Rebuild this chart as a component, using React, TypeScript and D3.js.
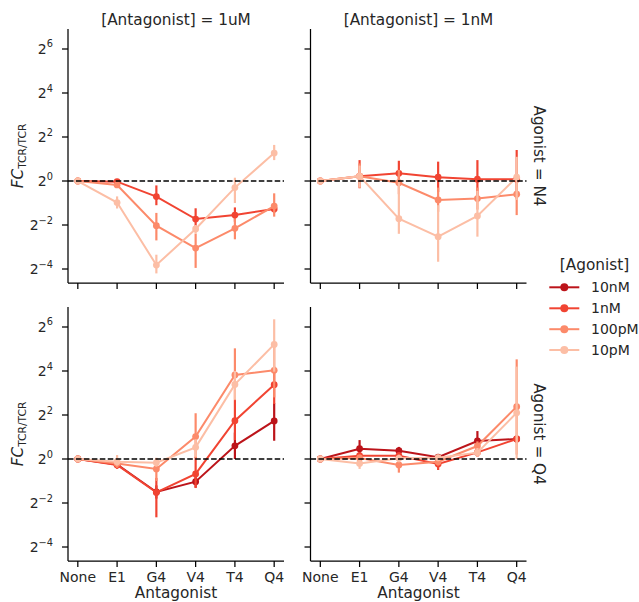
import React from "react";
import * as d3 from "d3";

const categories = ["None", "E1", "G4", "V4", "T4", "Q4"];
const agonists = ["10nM", "1nM", "100pM", "10pM"];
const colors = ["#bc141a", "#f14432", "#fc8a6a", "#fcbea5"];
const colTitles = ["[Antagonist] = 1uM", "[Antagonist] = 1nM"];
const rowTitles = ["Agonist = N4", "Agonist = Q4"];
const yTickExps = [-4, -2, 0, 2, 4, 6];

// values are log2 fold changes: [mean], [low], [high]
// Agonist N4, Antagonist 1uM
const n4uM_1nM = [0, -0.03, -0.71, -1.73, -1.55, -1.27];
const n4uM_1nM_lo = [0, -0.1, -1.1, -2.23, -1.85, -1.45];
const n4uM_1nM_hi = [0, 0.05, -0.2, -1.24, -1.2, -1.05];
const n4uM_100pM = [0, -0.18, -2.03, -3.05, -2.15, -1.14];
const n4uM_100pM_lo = [0, -0.25, -2.7, -3.95, -2.65, -1.62];
const n4uM_100pM_hi = [0, -0.1, -1.45, -2.4, -1.7, -0.56];
const n4uM_10pM = [0, -0.98, -3.82, -2.18, -0.3, 1.27];
const n4uM_10pM_lo = [0, -1.25, -4.2, -2.4, -1.0, 0.95];
const n4uM_10pM_hi = [0, -0.7, -3.35, -2.0, 0.15, 1.64];

// Agonist N4, Antagonist 1nM
const n4nM_1nM = [0, 0.22, 0.35, 0.17, 0.08, 0.08];
const n4nM_1nM_lo = [0, -0.33, -0.2, -0.5, -0.7, -0.8];
const n4nM_1nM_hi = [0, 0.95, 0.92, 0.88, 0.95, 1.41];
const n4nM_100pM = [0, 0.22, -0.08, -0.86, -0.8, -0.6];
const n4nM_100pM_lo = [0, -0.3, -0.6, -1.4, -1.3, -1.55];
const n4nM_100pM_hi = [0, 0.8, 0.5, -0.3, -0.3, -0.1];
const n4nM_10pM = [0, 0.22, -1.71, -2.53, -1.59, 0.17];
const n4nM_10pM_lo = [0, -0.3, -2.4, -3.67, -2.53, -0.86];
const n4nM_10pM_hi = [0, 0.7, -0.05, -1.1, -0.45, 1.1];

// Agonist Q4, Antagonist 1uM
const q4uM_10nM = [0, -0.25, -1.5, -1.03, 0.6, 1.73];
const q4uM_10nM_lo = [0, -0.4, -1.8, -1.3, 0.0, 0.83];
const q4uM_10nM_hi = [0, -0.1, -1.2, -0.75, 1.2, 2.53];
const q4uM_1nM = [0, -0.27, -1.52, -0.68, 1.74, 3.38];
const q4uM_1nM_lo = [0, -0.45, -2.65, -1.32, 0.86, 2.5];
const q4uM_1nM_hi = [0, -0.1, -0.86, 0.1, 2.68, 4.2];
const q4uM_100pM = [0, -0.2, -0.45, 1.02, 3.82, 4.03];
const q4uM_100pM_lo = [0, -0.4, -1.0, 0.03, 2.68, 2.8];
const q4uM_100pM_hi = [0, 0.0, 0.05, 2.08, 5.03, 5.3];
const q4uM_10pM = [0, -0.12, -0.17, 0.53, 3.39, 5.21];
const q4uM_10pM_lo = [0, -0.3, -0.35, 0.1, 2.7, 3.97];
const q4uM_10pM_hi = [0, 0.18, 0.05, 0.9, 4.0, 6.35];

// Agonist Q4, Antagonist 1nM
const q4nM_10nM = [0, 0.47, 0.38, 0.08, 0.82, 0.91];
const q4nM_10nM_lo = [0, 0.1, 0.2, -0.05, 0.41, 0.75];
const q4nM_10nM_hi = [0, 0.86, 0.55, 0.2, 1.27, 1.05];
const q4nM_1nM = [0, 0.15, 0.15, -0.23, 0.3, 0.91];
const q4nM_1nM_lo = [0, 0.0, 0.0, -0.5, 0.1, 0.8];
const q4nM_1nM_hi = [0, 0.3, 0.3, 0.03, 0.5, 1.0];
const q4nM_100pM = [0, 0.05, -0.27, -0.12, 0.59, 2.38];
const q4nM_100pM_lo = [0, -0.1, -0.62, -0.3, 0.4, 0.2];
const q4nM_100pM_hi = [0, 0.2, -0.05, 0.05, 0.8, 4.53];
const q4nM_10pM = [0, -0.2, 0.03, 0.06, 0.29, 2.1];
const q4nM_10pM_lo = [0, -0.45, -0.15, -0.1, 0.1, 0.0];
const q4nM_10pM_hi = [0, 0.05, 0.2, 0.2, 0.5, 4.2];

type Series = { mean: number[]; lo: number[]; hi: number[] } | null;

const panels: Series[][][] = [
  [
    [
      null,
      { mean: n4uM_1nM, lo: n4uM_1nM_lo, hi: n4uM_1nM_hi },
      { mean: n4uM_100pM, lo: n4uM_100pM_lo, hi: n4uM_100pM_hi },
      { mean: n4uM_10pM, lo: n4uM_10pM_lo, hi: n4uM_10pM_hi },
    ],
    [
      null,
      { mean: n4nM_1nM, lo: n4nM_1nM_lo, hi: n4nM_1nM_hi },
      { mean: n4nM_100pM, lo: n4nM_100pM_lo, hi: n4nM_100pM_hi },
      { mean: n4nM_10pM, lo: n4nM_10pM_lo, hi: n4nM_10pM_hi },
    ],
  ],
  [
    [
      { mean: q4uM_10nM, lo: q4uM_10nM_lo, hi: q4uM_10nM_hi },
      { mean: q4uM_1nM, lo: q4uM_1nM_lo, hi: q4uM_1nM_hi },
      { mean: q4uM_100pM, lo: q4uM_100pM_lo, hi: q4uM_100pM_hi },
      { mean: q4uM_10pM, lo: q4uM_10pM_lo, hi: q4uM_10pM_hi },
    ],
    [
      { mean: q4nM_10nM, lo: q4nM_10nM_lo, hi: q4nM_10nM_hi },
      { mean: q4nM_1nM, lo: q4nM_1nM_lo, hi: q4nM_1nM_hi },
      { mean: q4nM_100pM, lo: q4nM_100pM_lo, hi: q4nM_100pM_hi },
      { mean: q4nM_10pM, lo: q4nM_10pM_lo, hi: q4nM_10pM_hi },
    ],
  ],
];

const W = 639;
const H = 602;
const colX: [number, number][] = [
  [68, 284],
  [310.5, 526.5],
];
const rowY: [number, number][] = [
  [29, 283],
  [307, 561],
];
const FONT = "DejaVu Sans, sans-serif";
const FS = 14;
const FL = 15.3;
const TXT = "#262626";

function Panel({ r, c }: { r: number; c: number }) {
  const [x0, x1] = colX[c];
  const [y0, y1] = rowY[r];
  const x = d3.scalePoint<string>().domain(categories).range([x0, x1]).padding(0.25);
  const y = d3
    .scaleLog()
    .base(2)
    .domain([Math.pow(2, -4.636), Math.pow(2, 6.909)])
    .range([y1, y0]);
  const line = d3
    .line<number>()
    .x((_, i) => x(categories[i]) as number)
    .y((v) => y(Math.pow(2, v)));
  const series = panels[r][c];
  return (
    <g>
      {series.map((s, k) =>
        s ? (
          <g key={k}>
            <path d={line(s.mean) || ""} fill="none" stroke={colors[k]} strokeWidth={2} />
            {s.mean.map((v, i) => (
              <line
                key={"e" + i}
                x1={x(categories[i])}
                x2={x(categories[i])}
                y1={y(Math.pow(2, s.lo[i]))}
                y2={y(Math.pow(2, s.hi[i]))}
                stroke={colors[k]}
                strokeWidth={2.2}
              />
            ))}
            {s.mean.map((v, i) => (
              <circle
                key={"m" + i}
                cx={x(categories[i])}
                cy={y(Math.pow(2, v))}
                r={3.4}
                fill={colors[k]}
              />
            ))}
          </g>
        ) : null
      )}
      <line
        x1={x0}
        x2={x1}
        y1={y(1)}
        y2={y(1)}
        stroke="#000"
        strokeWidth={1.6}
        strokeDasharray="5.55,2.4"
      />
      {/* spines */}
      <line x1={x0} x2={x0} y1={y0} y2={y1} stroke="#000" strokeWidth={1.25} />
      <line x1={x0} x2={x1} y1={y1} y2={y1} stroke="#000" strokeWidth={1.25} />
      {/* y ticks */}
      {yTickExps.map((e) => {
        const ty = y(Math.pow(2, e));
        return (
          <g key={"yt" + e}>
            <line x1={x0 - 6} x2={x0} y1={ty} y2={ty} stroke="#000" strokeWidth={1.25} />
            {c === 0 ? (
              <text
                x={x0 - 15}
                y={ty + 5}
                textAnchor="end"
                fontFamily={FONT}
                fontSize={FS}
                fill={TXT}
              >
                2
                <tspan fontSize={9.8} dy={-6.5}>
                  {e < 0 ? "\u2212" + Math.abs(e) : String(e)}
                </tspan>
              </text>
            ) : null}
          </g>
        );
      })}
      {/* x ticks */}
      {categories.map((cat) => {
        const tx = x(cat) as number;
        return (
          <g key={"xt" + cat}>
            <line x1={tx} x2={tx} y1={y1} y2={y1 + 6} stroke="#000" strokeWidth={1.25} />
            {r === 1 ? (
              <text
                x={tx}
                y={y1 + 21}
                textAnchor="middle"
                fontFamily={FONT}
                fontSize={FS}
                fill={TXT}
              >
                {cat}
              </text>
            ) : null}
          </g>
        );
      })}
      {r === 1 ? (
        <text
          x={(x0 + x1) / 2}
          y={y1 + 37}
          textAnchor="middle"
          fontFamily={FONT}
          fontSize={FL}
          fill={TXT}
        >
          Antagonist
        </text>
      ) : null}
      {r === 0 ? (
        <text
          x={(x0 + x1) / 2}
          y={24.7}
          textAnchor="middle"
          fontFamily={FONT}
          fontSize={FL}
          fill={TXT}
        >
          {colTitles[c]}
        </text>
      ) : null}
      {c === 0 ? (
        <text
          transform={`translate(23,${(y0 + y1) / 2}) rotate(-90)`}
          textAnchor="middle"
          fontFamily={FONT}
          fontSize={FL}
          fill={TXT}
        >
          <tspan fontStyle="italic">FC</tspan>
          <tspan fontSize={10.7} dy={3.2}>
            TCR/TCR
          </tspan>
        </text>
      ) : null}
      {c === 1 ? (
        <text
          transform={`translate(534,${(y0 + y1) / 2}) rotate(90)`}
          textAnchor="middle"
          fontFamily={FONT}
          fontSize={FL}
          fill={TXT}
        >
          {rowTitles[r]}
        </text>
      ) : null}
    </g>
  );
}

function Legend() {
  const lx0 = 549.3;
  const lx1 = 579.3;
  const rowsY = [287.3, 308.3, 329.2, 350];
  return (
    <g>
      <text x={594.5} y={269.5} textAnchor="middle" fontFamily={FONT} fontSize={FL} fill={TXT}>
        [Agonist]
      </text>
      {agonists.map((a, i) => (
        <g key={a}>
          <line x1={lx0} x2={lx1} y1={rowsY[i]} y2={rowsY[i]} stroke={colors[i]} strokeWidth={2} />
          <circle cx={(lx0 + lx1) / 2} cy={rowsY[i]} r={4} fill={colors[i]} />
          <text x={591} y={rowsY[i] + 5} fontFamily={FONT} fontSize={FS} fill={TXT}>
            {a}
          </text>
        </g>
      ))}
    </g>
  );
}

export default function App() {
  return (
    <svg
      width={W}
      height={H}
      style={{ position: "absolute", left: 0, top: 0, background: "#fff" }}
    >
      <rect width={W} height={H} fill="#fff" />
      {[0, 1].map((r) => [0, 1].map((c) => <Panel key={`${r}-${c}`} r={r} c={c} />))}
      <Legend />
    </svg>
  );
}
